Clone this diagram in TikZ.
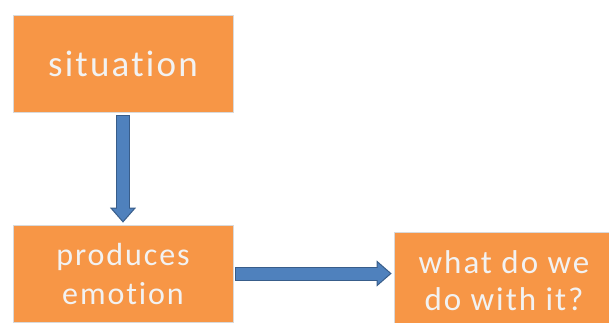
\documentclass[tikz,border=0pt]{standalone}
\usepackage{fontspec}
\setmainfont{Carlito}[LetterSpace=6,Ligatures={NoCommon},RawFeature={-liga}]
\usetikzlibrary{arrows.meta}
\definecolor{boxorange}{HTML}{F79646}
\definecolor{boxtext}{HTML}{F2F2F2}
\definecolor{arrowfill}{HTML}{4F81BD}
\definecolor{arrowline}{HTML}{385D8A}
\begin{document}
\begin{tikzpicture}[x=1pt,y=1pt,
  box/.style={rectangle, fill=boxorange, draw=black!15, line width=0.8pt, minimum width=220pt, minimum height=97pt, inner sep=0pt, align=center, text=boxtext},
  arrowout/.style={line width=14pt, arrowline, -{Triangle[length=15pt,width=26pt,fill=arrowfill,line width=1pt]}},
  arrowin/.style={line width=12pt, arrowfill}]
\useasboundingbox (0,0) rectangle (609,-322);
\clip (0,0) rectangle (609,-322);
\node[box, font=\fontsize{37}{40}\selectfont] (sit) at (123,-63.5) {situation};
\node[box, font=\fontsize{32}{39}\selectfont] (prod) at (123,-273.5) {produces\\emotion};
\node[box, font=\fontsize{33}{37}\selectfont] (what) at (504,-280.5) {what do we\\do with it?};
\coordinate (whatin) at (what.west |- prod.east);
% situation -> emotion
\draw[arrowout, shorten <=3pt, shorten >=2pt] (sit.south) -- (prod.north);
\draw[arrowin, shorten <=4pt, shorten >=14pt] (sit.south) -- (prod.north);
% emotion -> what now
\draw[arrowout, shorten <=2pt, shorten >=2pt] (prod.east) -- (whatin);
\draw[arrowin, shorten <=3pt, shorten >=14pt] (prod.east) -- (whatin);
\end{tikzpicture}
\end{document}
